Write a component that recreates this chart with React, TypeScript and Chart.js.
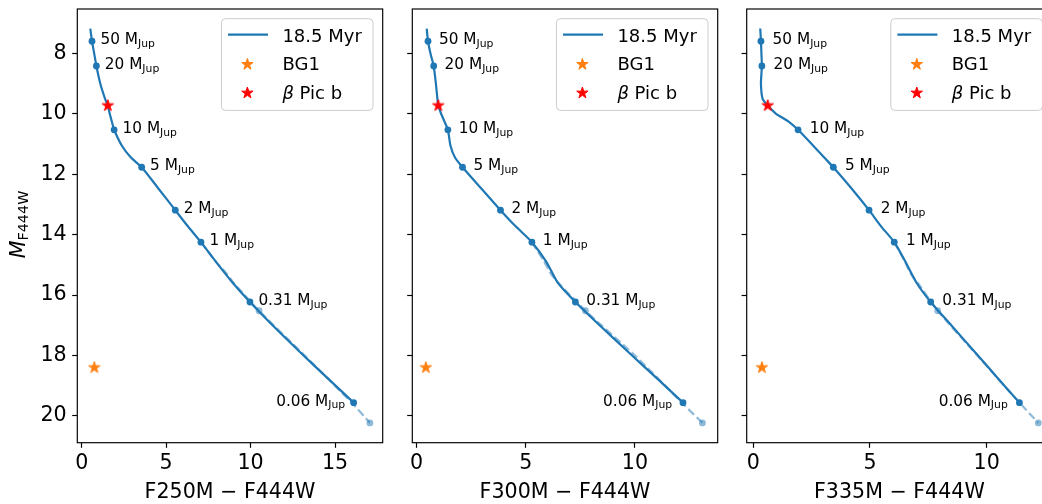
import React, { useEffect, useRef } from "react";
import { Chart, registerables } from "chart.js";
Chart.register(...registerables);

const FONT = "'DejaVu Sans', 'Liberation Sans', sans-serif";
const BLUE = "#1f77b4";
const BLUE_FADED = "rgba(31,119,180,0.5)";
const ORANGE = "#ff7f0e";
const RED = "#ff0000";

// ---------- data ----------
const massLabels = ["50", "20", "10", "5", "2", "1", "0.31", "0.06"];
const massMag = [7.6, 8.42, 10.53, 11.77, 13.19, 14.25, 16.23, 19.56];
const massColorF250 = [0.61, 0.87, 1.92, 3.55, 5.54, 7.06, 9.96, 16.1];
const massColorF300 = [0.52, 0.78, 1.43, 2.1, 3.84, 5.28, 7.27, 12.2];
const massColorF335 = [0.33, 0.37, 1.92, 3.43, 4.96, 6.04, 7.6, 11.4];

const curveMag = [7.18, 7.6, 8.0, 8.42, 9.0, 9.5, 9.73, 10.0, 10.25, 10.53, 11.06, 11.44, 11.77, 12.48, 13.19, 13.7, 14.25, 14.9, 15.6, 16.23, 17.0, 17.9, 18.8, 19.56];
const curveColorF250 = [0.51, 0.61, 0.74, 0.87, 1.1, 1.38, 1.55, 1.66, 1.78, 1.92, 2.38, 2.9, 3.55, 4.55, 5.54, 6.25, 7.06, 7.95, 8.95, 9.96, 11.3, 12.95, 14.65, 16.1];
const curveColorF300 = [0.46, 0.52, 0.63, 0.78, 0.88, 0.95, 0.99, 1.12, 1.27, 1.43, 1.55, 1.75, 2.1, 2.97, 3.84, 4.5, 5.28, 5.94, 6.47, 7.27, 8.38, 9.72, 11.07, 12.2];
const curveColorF335 = [0.3, 0.33, 0.35, 0.37, 0.33, 0.4, 0.62, 0.98, 1.5, 1.92, 2.57, 3.03, 3.43, 4.22, 4.96, 5.45, 6.04, 6.52, 7.0, 7.6, 8.48, 9.51, 10.53, 11.4];

const extMag = [14.25, 14.9, 15.3, 15.6, 16.52, 18.0, 19.6, 20.23];
const extColorF250 = [7.06, 7.95, 8.6, 9.0, 10.5, 13.2, 16.05, 17.06];
const extColorF300 = [5.28, 5.85, 6.15, 6.5, 7.73, 10.0, 12.2, 13.09];
const extColorF335 = [6.04, 6.5, 6.75, 7.05, 7.9, 9.6, 11.45, 12.21];
const extDotMag = [16.52, 20.23];
const extDotF250 = [10.5, 17.06];
const extDotF300 = [7.73, 13.09];
const extDotF335 = [7.9, 12.21];

const bg1Mag = 18.4;
const bg1Color = [0.75, 0.42, 0.37];
const betaPicMag = 9.73;
const betaPicColor = [1.55, 0.99, 0.62];

const yTicks = [8, 10, 12, 14, 16, 18, 20];
const yRange = [6.533, 20.886];
const xTicksF250 = [0, 5, 10, 15];
const xTicksF300 = [0, 5, 10];
const xTicksF335 = [0, 5, 10];
const xRanges = [[-0.26, 17.82], [-0.2, 13.79], [-0.28, 12.8]];
const xTitles = ["F250M \u2212 F444W", "F300M \u2212 F444W", "F335M \u2212 F444W"];
const legendLabels = ["18.5 Myr", "BG1", "Pic b"];

// ---------- layout ----------
const AREA_LEFTS = [77.3, 412.3, 746.7];
const AREA_W = 305.4;
const AREA_TOP = 5.3;
const AREA_BOTTOM = 442.7;
const H = 504;

function drawStar(g: CanvasRenderingContext2D, cx: number, cy: number, r: number, color: string) {
  g.beginPath();
  for (let k = 0; k < 10; k++) {
    const rr = k % 2 === 0 ? r : r * 0.381966;
    const a = -Math.PI / 2 + (k * Math.PI) / 5;
    const px = cx + rr * Math.cos(a);
    const py = cy + rr * Math.sin(a);
    if (k === 0) g.moveTo(px, py);
    else g.lineTo(px, py);
  }
  g.closePath();
  g.fillStyle = color;
  g.fill();
  g.lineWidth = 1;
  g.strokeStyle = color;
  g.lineJoin = "miter";
  g.stroke();
}

function makeStar(color: string) {
  const c = document.createElement("canvas");
  c.width = 16;
  c.height = 16;
  const g = c.getContext("2d")!;
  drawStar(g, 8, 8, 6, color);
  return c;
}

type Part = { text: string; font: string; dy: number };
function drawParts(ctx: CanvasRenderingContext2D, x: number, y: number, parts: Part[], align: "left" | "right" | "center") {
  ctx.textAlign = "left";
  ctx.textBaseline = "alphabetic";
  let total = 0;
  const widths = parts.map((p) => {
    ctx.font = p.font;
    const w = ctx.measureText(p.text).width;
    total += w;
    return w;
  });
  let cx = align === "left" ? x : align === "right" ? x - total : x - total / 2;
  parts.forEach((p, i) => {
    ctx.font = p.font;
    ctx.fillText(p.text, cx, y + p.dy);
    cx += widths[i];
  });
}

type PanelDef = {
  curveX: number[];
  massX: number[];
  extX: number[];
  extDotX: number[];
  xTicks: number[];
};

const panels: PanelDef[] = [
  { curveX: curveColorF250, massX: massColorF250, extX: extColorF250, extDotX: extDotF250, xTicks: xTicksF250 },
  { curveX: curveColorF300, massX: massColorF300, extX: extColorF300, extDotX: extDotF300, xTicks: xTicksF300 },
  { curveX: curveColorF335, massX: massColorF335, extX: extColorF335, extDotX: extDotF335, xTicks: xTicksF335 },
];

function geometry(i: number) {
  const nominalY = i === 0 ? 77.3 : 25;
  const canvasLeft = Math.floor(AREA_LEFTS[i] - nominalY);
  const yAxisW = AREA_LEFTS[i] - canvasLeft;
  const canvasW = Math.ceil(yAxisW + AREA_W + 12);
  const padRight = canvasW - yAxisW - AREA_W;
  return { canvasLeft, yAxisW, canvasW, padRight };
}

function zeroPad(s: any) {
  s.paddingTop = 0;
  s.paddingBottom = 0;
  s.paddingLeft = 0;
  s.paddingRight = 0;
}

function Panel({ index }: { index: number }) {
  const ref = useRef<HTMLCanvasElement>(null);
  const geo = geometry(index);
  useEffect(() => {
    const p = panels[index];
    const pts = (xs: number[], ys: number[]) => xs.map((x, k) => ({ x, y: ys[k] }));
    const orangeStar = makeStar(ORANGE);
    const redStar = makeStar(RED);

    const overlay = {
      id: "overlay" + index,
      afterDraw(chart: any) {
        const ctx: CanvasRenderingContext2D = chart.ctx;
        const a = chart.chartArea;
        const xs = chart.scales.x;
        const ys = chart.scales.y;
        ctx.save();
        // mass labels
        ctx.fillStyle = "#000";
        massLabels.forEach((lab, k) => {
          const last = k === massLabels.length - 1;
          const px = xs.getPixelForValue(p.massX[k] + (last ? -0.5 : 0.5));
          const py = ys.getPixelForValue(massMag[k]);
          drawParts(ctx, px, py + 3.2, [
            { text: lab + " M", font: `15.3px ${FONT}`, dy: 0 },
            { text: "Jup", font: `10.8px ${FONT}`, dy: 2.6 },
          ], last ? "right" : "left");
        });
        // spines
        ctx.strokeStyle = "#000";
        ctx.lineWidth = 1.17;
        ctx.strokeRect(a.left, a.top, a.right - a.left, a.bottom - a.top);
        // legend
        const bw = 151.6, bh = 91.7;
        const bx = a.right - 9.7 - bw;
        const by = a.top + 9.7;
        ctx.beginPath();
        ctx.roundRect(bx, by, bw, bh, 4);
        ctx.fillStyle = "rgba(255,255,255,0.8)";
        ctx.fill();
        ctx.strokeStyle = "#cccccc";
        ctx.lineWidth = 1;
        ctx.stroke();
        ctx.beginPath();
        ctx.moveTo(bx + 6.6, by + 16);
        ctx.lineTo(bx + 46.6, by + 16);
        ctx.strokeStyle = BLUE;
        ctx.lineWidth = 2.2;
        ctx.stroke();
        drawStar(ctx, bx + 26, by + 45.7, 6, ORANGE);
        drawStar(ctx, bx + 26, by + 74.3, 6, RED);
        ctx.fillStyle = "#000";
        drawParts(ctx, bx + 61, by + 23.3, [{ text: legendLabels[0], font: `18px ${FONT}`, dy: 0 }], "left");
        drawParts(ctx, bx + 61, by + 51.7, [{ text: legendLabels[1], font: `18px ${FONT}`, dy: 0 }], "left");
        drawParts(ctx, bx + 61, by + 80, [
          { text: "\u03b2", font: `italic 18px ${FONT}`, dy: 0 },
          { text: " " + legendLabels[2], font: `18px ${FONT}`, dy: 0 },
        ], "left");
        // x title
        drawParts(ctx, (a.left + a.right) / 2, 498.3, [{ text: xTitles[index], font: `20.6px ${FONT}`, dy: 0 }], "center");
        // y title
        if (index === 0) {
          ctx.translate(25, 224.5);
          ctx.rotate(-Math.PI / 2);
          drawParts(ctx, 0, 0, [
            { text: "M", font: `italic 20.6px ${FONT}`, dy: 0 },
            { text: "F444W", font: `14.4px ${FONT}`, dy: 3.3 },
          ], "center");
        }
        ctx.restore();
      },
    };

    const chart = new Chart(ref.current!, {
      type: "scatter",
      data: {
        datasets: [
          { data: [{ x: betaPicColor[index], y: betaPicMag }], pointStyle: redStar as any, pointRadius: 8, order: 0 } as any,
          { data: [{ x: bg1Color[index], y: bg1Mag }], pointStyle: orangeStar as any, pointRadius: 8, order: 0 } as any,
          { data: pts(p.massX, massMag), pointRadius: 3.4, backgroundColor: BLUE, borderWidth: 0, order: 1 },
          { data: pts(p.curveX, curveMag), showLine: true, pointRadius: 0, borderColor: BLUE, borderWidth: 2.2, tension: 0.25, order: 2 },
          { data: pts(p.extDotX, extDotMag), pointRadius: 3.4, backgroundColor: BLUE_FADED, borderWidth: 0, order: 3 },
          { data: pts(p.extX, extMag), showLine: true, pointRadius: 0, borderColor: BLUE_FADED, borderWidth: 2.2, borderDash: [8, 3.5], tension: 0.2, order: 4 },
        ],
      },
      options: {
        animation: false,
        responsive: false,
        events: [],
        layout: { padding: { left: 0, top: AREA_TOP, right: geo.padRight, bottom: 0 } },
        plugins: { legend: { display: false }, tooltip: { enabled: false } },
        scales: {
          x: {
            type: "linear",
            min: xRanges[index][0],
            max: xRanges[index][1],
            afterBuildTicks: (s: any) => { s.ticks = p.xTicks.map((v) => ({ value: v })); },
            afterFit: (s: any) => { s.height = H - AREA_BOTTOM; zeroPad(s); },
            grid: { display: true, drawOnChartArea: false, drawTicks: true, tickLength: 5.1, tickWidth: 1.17, tickColor: "#000" },
            border: { display: false },
            ticks: { color: "#000", font: { family: FONT, size: 20.6 }, padding: 3, maxRotation: 0, autoSkip: false },
          },
          y: {
            type: "linear",
            reverse: true,
            min: yRange[0],
            max: yRange[1],
            afterBuildTicks: (s: any) => { s.ticks = yTicks.map((v) => ({ value: v })); },
            afterFit: (s: any) => { s.width = geo.yAxisW; zeroPad(s); },
            grid: { display: true, drawOnChartArea: false, drawTicks: true, tickLength: 5.1, tickWidth: 1.17, tickColor: "#000" },
            border: { display: false },
            ticks: { display: index === 0, color: "#000", font: { family: FONT, size: 20.6 }, padding: 5.5, autoSkip: false },
          },
        },
      } as any,
      plugins: [overlay],
    });
    return () => chart.destroy();
  }, [index]);
  return (
    <canvas
      ref={ref}
      width={geo.canvasW}
      height={H}
      style={{ position: "absolute", left: geo.canvasLeft, top: 0, width: geo.canvasW, height: H }}
    />
  );
}

export default function App() {
  return (
    <div style={{ position: "absolute", left: 0, top: 0, width: 1042, height: 504, overflow: "hidden", background: "#fff" }}>
      <Panel index={0} />
      <Panel index={1} />
      <Panel index={2} />
    </div>
  );
}
